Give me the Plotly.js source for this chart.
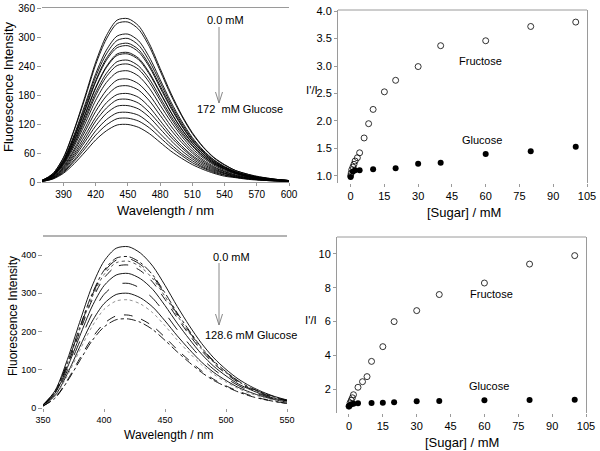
<!DOCTYPE html>
<html><head><meta charset="utf-8">
<script src="https://cdn.plot.ly/plotly-3.0.1.min.js"></script>
<style>html,body{margin:0;padding:0;background:#fff}#chart{width:600px;height:451px}</style>
</head><body><div id="chart"></div>
<script>
// ---------- data ----------
const wavelengthTop = [370,380,390,400,410,420,430,440,450,460,470,480,490,500,510,520,530,540,550,560,570,580,590,600];
const intensityTop = [
 [3,17,51,109,177,248,303,335,338,323,286,235,184,139,102,73,51,36,24,17,12,8,5,3],
 [3,17,50,107,173,243,296,328,331,316,280,230,180,137,100,72,50,35,24,17,11,8,5,3],
 [3,15,46,98,160,224,273,302,306,292,258,212,166,126,92,66,46,32,22,15,10,7,5,3],
 [3,15,45,95,155,218,265,293,297,283,250,206,161,122,89,64,45,31,21,15,10,7,4,3],
 [3,14,43,92,150,210,256,283,287,274,242,199,156,118,86,62,43,30,21,14,10,7,4,3],
 [3,14,42,91,147,207,252,278,282,269,238,195,153,116,85,61,42,30,20,14,10,7,4,3],
 [3,13,40,86,140,196,239,265,268,256,226,186,145,110,81,58,40,28,19,13,9,6,4,3],
 [3,13,40,85,138,194,237,262,265,253,223,184,144,109,80,57,40,28,19,13,9,6,4,3],
 [3,13,38,81,132,185,225,249,252,240,213,175,137,104,76,54,38,27,18,13,9,6,4,3],
 [2,12,37,78,127,179,218,241,244,233,206,169,132,100,74,53,37,26,18,12,8,6,4,2],
 [2,12,35,74,120,169,206,227,230,219,194,159,125,95,69,50,35,24,17,12,8,5,3,2],
 [2,11,32,68,111,156,190,211,213,203,180,148,116,88,64,46,32,22,15,11,7,5,3,2],
 [2,10,30,64,104,146,178,197,199,190,168,138,108,82,60,43,30,21,14,10,7,5,3,2],
 [2,9,28,59,96,134,164,181,183,175,155,127,99,75,55,40,28,19,13,9,6,4,3,2],
 [2,9,26,55,89,126,153,170,171,163,144,119,93,71,52,37,26,18,12,9,6,4,3,2],
 [2,8,24,51,83,116,142,157,158,151,134,110,86,65,48,34,24,17,11,8,5,4,2,2],
 [1,7,22,46,75,106,129,143,144,138,122,100,78,59,44,31,22,15,10,7,5,3,2,1],
 [1,7,20,43,69,97,118,131,132,126,112,92,72,55,40,29,20,14,10,7,5,3,2,1],
 [1,6,18,38,62,87,106,118,119,113,100,82,64,49,36,26,18,12,9,6,4,3,2,1]
];
const wavelengthBottom = [350,360,370,380,390,400,410,420,430,440,450,460,470,480,490,500,510,520,530,540,550];
const intensityBottom = [
 [8,46,127,224,317,384,418,422,405,371,321,266,215,169,131,101,76,57,42,30,21],
 [8,44,119,210,297,360,392,396,380,348,301,249,202,158,123,95,71,53,40,29,20],
 [8,43,117,207,293,356,387,391,375,344,297,246,199,156,121,94,70,53,39,28,20],
 [8,42,115,204,288,349,380,384,369,338,292,242,196,154,119,92,69,52,38,28,19],
 [8,41,112,198,281,340,370,374,359,329,284,236,191,150,116,90,67,50,37,27,19],
 [7,39,106,187,264,320,348,352,338,310,268,222,180,141,109,84,63,48,35,25,18],
 [7,36,98,173,245,297,323,326,313,287,248,205,166,130,101,78,59,44,33,23,16],
 [6,33,90,159,225,273,297,300,288,264,228,189,153,120,93,72,54,41,30,22,15],
 [6,31,85,150,212,258,280,283,272,249,215,178,144,113,88,68,51,38,28,20,14],
 [5,27,73,129,182,221,241,243,233,214,185,153,124,97,75,58,44,33,24,17,12],
 [5,26,70,123,175,212,231,233,224,205,177,147,119,93,72,56,42,31,23,17,12]
];
const sugarFruTop  = [0,0.25,0.5,1,1.5,2,3,4,6,8,10,15,20,30,40,60,80,100];
const ratioFruTop  = [1.0,1.05,1.11,1.16,1.21,1.27,1.33,1.42,1.69,1.95,2.21,2.53,2.74,2.99,3.37,3.46,3.72,3.80];
const sugarGluTop  = [0,1,2,4,10,20,30,40,60,80,100];
const ratioGluTop  = [0.98,1.08,1.10,1.10,1.12,1.14,1.22,1.24,1.40,1.45,1.53];
const sugarFruBot  = [0,0.5,1,1.5,2,4,6,8,10,15,20,30,40,60,80,100];
const ratioFruBot  = [1.0,1.2,1.35,1.5,1.68,2.12,2.45,2.75,3.65,4.52,6.0,6.65,7.6,8.28,9.4,9.9];
const sugarGluBot  = [0,0.5,1,2,4,10,15,20,30,40,60,80,100];
const ratioGluBot  = [1.0,1.07,1.12,1.15,1.17,1.19,1.21,1.23,1.29,1.31,1.35,1.37,1.39];
const tickWlTop = [390,420,450,480,510,540,570,600];
const tickIntTop = [0,60,120,180,240,300,360];
const tickWlBot = [350,400,450,500,550];
const tickIntBot = [0,100,200,300,400];
const tickSugar = [0,15,30,45,60,75,90,105];
const tickRatioTop = [1.0,1.5,2.0,2.5,3.0,3.5,4.0];
const tickRatioBot = [2,4,6,8,10];

// ---------- styles ----------
const FONT = 'Liberation Sans, Arial, sans-serif';
const AX = '#9a9a9a';
const bottomDash = ['solid','dashdot','longdash','dot','dash','solid','longdash','solid','dot','dash','dashdot'];
const bottomColor = ['#000','#000','#000','#444','#000','#000','#000','#000','#888','#000','#000'];

const traces = [];
intensityTop.forEach(row => traces.push({x: wavelengthTop, y: row, type:'scatter', mode:'lines',
  line:{color:'#000', width:0.9, shape:'spline', smoothing:0.8}, xaxis:'x', yaxis:'y', hoverinfo:'skip'}));
intensityBottom.forEach((row,i) => traces.push({x: wavelengthBottom, y: row, type:'scatter', mode:'lines',
  line:{color:bottomColor[i], width:0.9, dash:bottomDash[i], shape:'spline', smoothing:0.8}, xaxis:'x3', yaxis:'y3'}));
const openM = {symbol:'circle-open', size:6, color:'#000', line:{width:0.8, color:'#000'}};
const fillM = {symbol:'circle', size:6, color:'#000'};
traces.push({x:sugarFruTop, y:ratioFruTop, mode:'markers', marker:openM, xaxis:'x2', yaxis:'y2'});
traces.push({x:sugarGluTop, y:ratioGluTop, mode:'markers', marker:fillM, xaxis:'x2', yaxis:'y2'});
traces.push({x:sugarFruBot, y:ratioFruBot, mode:'markers', marker:openM, xaxis:'x4', yaxis:'y4'});
traces.push({x:sugarGluBot, y:ratioGluBot, mode:'markers', marker:fillM, xaxis:'x4', yaxis:'y4'});

const W = 600, H = 451;
const px = v => v / W, py = v => 1 - v / H;
const baseAx = {showgrid:false, zeroline:false, ticks:'outside', ticklen:3, tickwidth:1, tickcolor:AX,
  linecolor:AX, linewidth:1, tickfont:{family:FONT, size:10, color:'#000'}, fixedrange:true};

const layout = {
  width:W, height:H, margin:{l:0,r:0,t:0,b:0}, showlegend:false,
  paper_bgcolor:'#fff', plot_bgcolor:'rgba(0,0,0,0)', font:{family:FONT, color:'#000'},
  xaxis: Object.assign({}, baseAx, {domain:[px(42),px(289)], range:[370,600], tickvals:tickWlTop,
     showline:true, mirror:true, anchor:'y'}),
  yaxis: Object.assign({}, baseAx, {domain:[py(182),py(8)], range:[0,360], tickvals:tickIntTop,
     showline:false, ticklen:4, anchor:'x'}),
  xaxis2: Object.assign({}, baseAx, {domain:[px(338),px(587)], range:[-5.6,105], tickvals:tickSugar,
     showline:false, anchor:'y2', tickfont:{family:FONT, size:11, color:'#000'}}),
  yaxis2: Object.assign({}, baseAx, {domain:[py(183),py(10)], range:[0.87,4.02], tickvals:tickRatioTop,
     tickformat:'.1f', showline:true, mirror:true, ticklen:3, anchor:'x2', tickfont:{family:FONT, size:11, color:'#000'}}),
  xaxis3: Object.assign({}, baseAx, {domain:[px(43),px(287)], range:[350,550], tickvals:tickWlBot,
     showline:false, anchor:'y3', tickfont:{family:FONT, size:9, color:'#000'}}),
  yaxis3: Object.assign({}, baseAx, {domain:[py(408),py(236)], range:[0,450], tickvals:tickIntBot,
     showline:false, ticklen:4, anchor:'x3', tickfont:{family:FONT, size:9, color:'#000'}}),
  xaxis4: Object.assign({}, baseAx, {domain:[px(337),px(586)], range:[-5.3,105], tickvals:tickSugar,
     showline:false, anchor:'y4', tickfont:{family:FONT, size:11, color:'#000'}}),
  yaxis4: Object.assign({}, baseAx, {domain:[py(413),py(237)], range:[0.6,11], tickvals:tickRatioBot,
     showline:true, mirror:true, ticklen:3, anchor:'x4', tickfont:{family:FONT, size:11, color:'#000'}}),
  shapes: [
    {type:'line', xref:'x2 domain', yref:'y2 domain', x0:0, x1:1, y0:1, y1:1, line:{color:AX, width:1}},
    {type:'line', xref:'x3 domain', yref:'y3 domain', x0:0, x1:1, y0:1, y1:1, line:{color:AX, width:1.5}},
    {type:'line', xref:'x4 domain', yref:'y4 domain', x0:0, x1:1, y0:1, y1:1, line:{color:AX, width:1}},
    {type:'path', xref:'paper', yref:'paper', line:{color:'#888', width:1},
      path:`M ${px(219)} ${py(27)} L ${px(219)} ${py(103)} M ${px(215.5)} ${py(92)} L ${px(219)} ${py(103)} L ${px(222.5)} ${py(92)}`},
    {type:'path', xref:'paper', yref:'paper', line:{color:'#888', width:1},
      path:`M ${px(219)} ${py(263)} L ${px(219)} ${py(325)} M ${px(215.5)} ${py(314)} L ${px(219)} ${py(325)} L ${px(222.5)} ${py(314)}`}
  ],
  annotations: []
};
function txt(t, x, y, size, opts) {
  layout.annotations.push(Object.assign({text:t, xref:'paper', yref:'paper', x:px(x), y:py(y),
    xanchor:'left', yanchor:'middle', showarrow:false, font:{family:FONT, size:size, color:'#000'}}, opts||{}));
}
txt('0.0 mM', 205, 20, 11);
txt('172&nbsp;&nbsp;mM Glucose', 195, 109, 11);
txt('0.0 mM', 211, 257, 11);
txt('128.6 mM Glucose', 203, 335, 11);
txt('Fructose', 457, 61, 11);
txt('Glucose', 460, 140, 11);
txt('Fructose', 468, 294, 11);
txt('Glucose', 467, 386, 11);
txt("I'/I", 304, 90, 11.5);
txt("I'/I", 303, 320, 11.5);
txt('Wavelength / nm', 165, 211, 13, {xanchor:'center'});
txt('Wavelength / nm', 169, 435, 12, {xanchor:'center'});
txt('[Sugar] / mM', 464, 212, 13, {xanchor:'center'});
txt('[Sugar] / mM', 462, 442, 13, {xanchor:'center'});
txt('Fluorescence Intensity', 9, 87, 13, {xanchor:'center', textangle:-90});
txt('Fluorescence Intensity', 13, 316, 12, {xanchor:'center', textangle:-90});

Plotly.newPlot('chart', traces, layout, {staticPlot:true, displayModeBar:false});
</script></body></html>
